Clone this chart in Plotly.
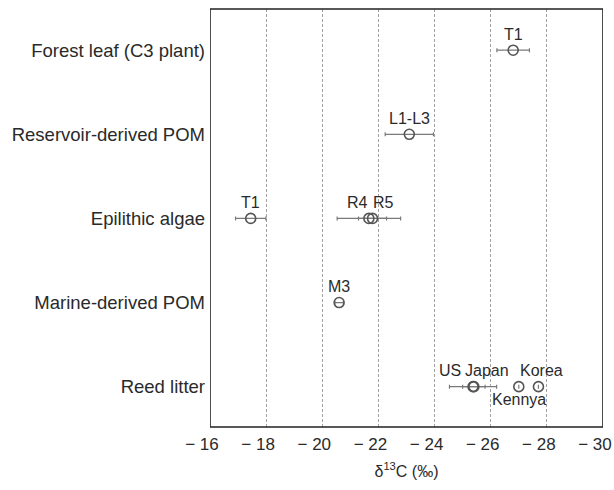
import plotly.graph_objects as go

categories = ["Reed litter", "Marine-derived POM", "Epilithic algae",
              "Reservoir-derived POM", "Forest leaf (C3 plant)"]

site_labels = ["T1", "L1-L3", "T1", "R4", "R5", "M3", "US", "Japan", "Kennya", "Korea"]
site_category = ["Forest leaf (C3 plant)", "Reservoir-derived POM", "Epilithic algae",
                 "Epilithic algae", "Epilithic algae", "Marine-derived POM",
                 "Reed litter", "Reed litter", "Reed litter", "Reed litter"]
d13c_mean = [-26.8, -23.1, -17.45, -21.66, -21.79, -20.6, -25.37, -25.4, -27.0, -27.7]
d13c_sd = [0.58, 0.86, 0.54, 1.13, 0.5, 0.15, 0.84, 0.4, 0.0, 0.0]

# label placement: side of marker ("top"/"bottom") and horizontal nudge in px
label_side = ["top", "top", "top", "top", "top", "top", "top", "top", "bottom", "top"]
label_nudge = [0, 0, 0, -11, 11, 0, -23, 13, 0, 3]

x_range = [-16, -30]
x_ticks = [-16, -18, -20, -22, -24, -26, -28, -30]
x_ticktext = ["\u2212 16", "\u2212 18", "\u2212 20", "\u2212 22", "\u2212 24",
              "\u2212 26", "\u2212 28", "\u2212 30"]

FONT = "Liberation Sans, Arial, Helvetica, sans-serif"
TXT = "#2a2a2a"

fig = go.Figure()
fig.add_trace(go.Scatter(
    x=d13c_mean, y=site_category, mode="markers",
    marker=dict(symbol="circle-open", size=10, color="#555555", line=dict(width=1.6)),
    error_x=dict(type="data", array=d13c_sd, visible=True, color="#7a7a7a",
                 thickness=1.2, width=2),
    showlegend=False, hoverinfo="skip",
))

for lab, cat, xm, side, nudge in zip(site_labels, site_category, d13c_mean,
                                     label_side, label_nudge):
    ys = 16 if side == "top" else -13
    fig.add_annotation(x=xm, y=cat, text=lab, showarrow=False,
                       xanchor="center", yanchor="middle", xshift=nudge, yshift=ys,
                       font=dict(family=FONT, size=16, color=TXT))

# frame around the plotting area, tied to the x range
fig.add_shape(type="rect", xref="x", yref="paper", x0=x_range[0], x1=x_range[1],
              y0=0, y1=1, line=dict(color="#222222", width=1.6), layer="above")

fig.update_layout(
    width=614, height=490,
    margin=dict(l=210, r=11, t=9, b=63, autoexpand=False),
    paper_bgcolor="white", plot_bgcolor="white",
    font=dict(family=FONT, color=TXT),
)
fig.update_xaxes(
    range=x_range, tickvals=x_ticks, ticktext=x_ticktext, automargin=False,
    ticklabeloverflow="allow", ticklabelshift=8,
    showgrid=True, gridcolor="#a0a0a0", griddash="3px,2px", gridwidth=1,
    showline=False, mirror=False,
    ticks="", ticklabelstandoff=5, tickfont=dict(size=17, color=TXT), zeroline=False,
    title=dict(text="\u03b4<sup>13</sup>C (\u2030)", font=dict(size=16, color=TXT), standoff=12),
)
fig.update_yaxes(
    type="category", categoryorder="array", categoryarray=categories,
    range=[-0.48, 4.49], showgrid=False, automargin=False,
    showline=False, mirror=False,
    ticks="", ticklabelstandoff=4, tickfont=dict(size=18.5, color=TXT),
)

fig.write_html(
    "out.html",
    config={"displayModeBar": False},
    post_script="document.body.style.margin='0';document.body.style.overflow='hidden';",
)
